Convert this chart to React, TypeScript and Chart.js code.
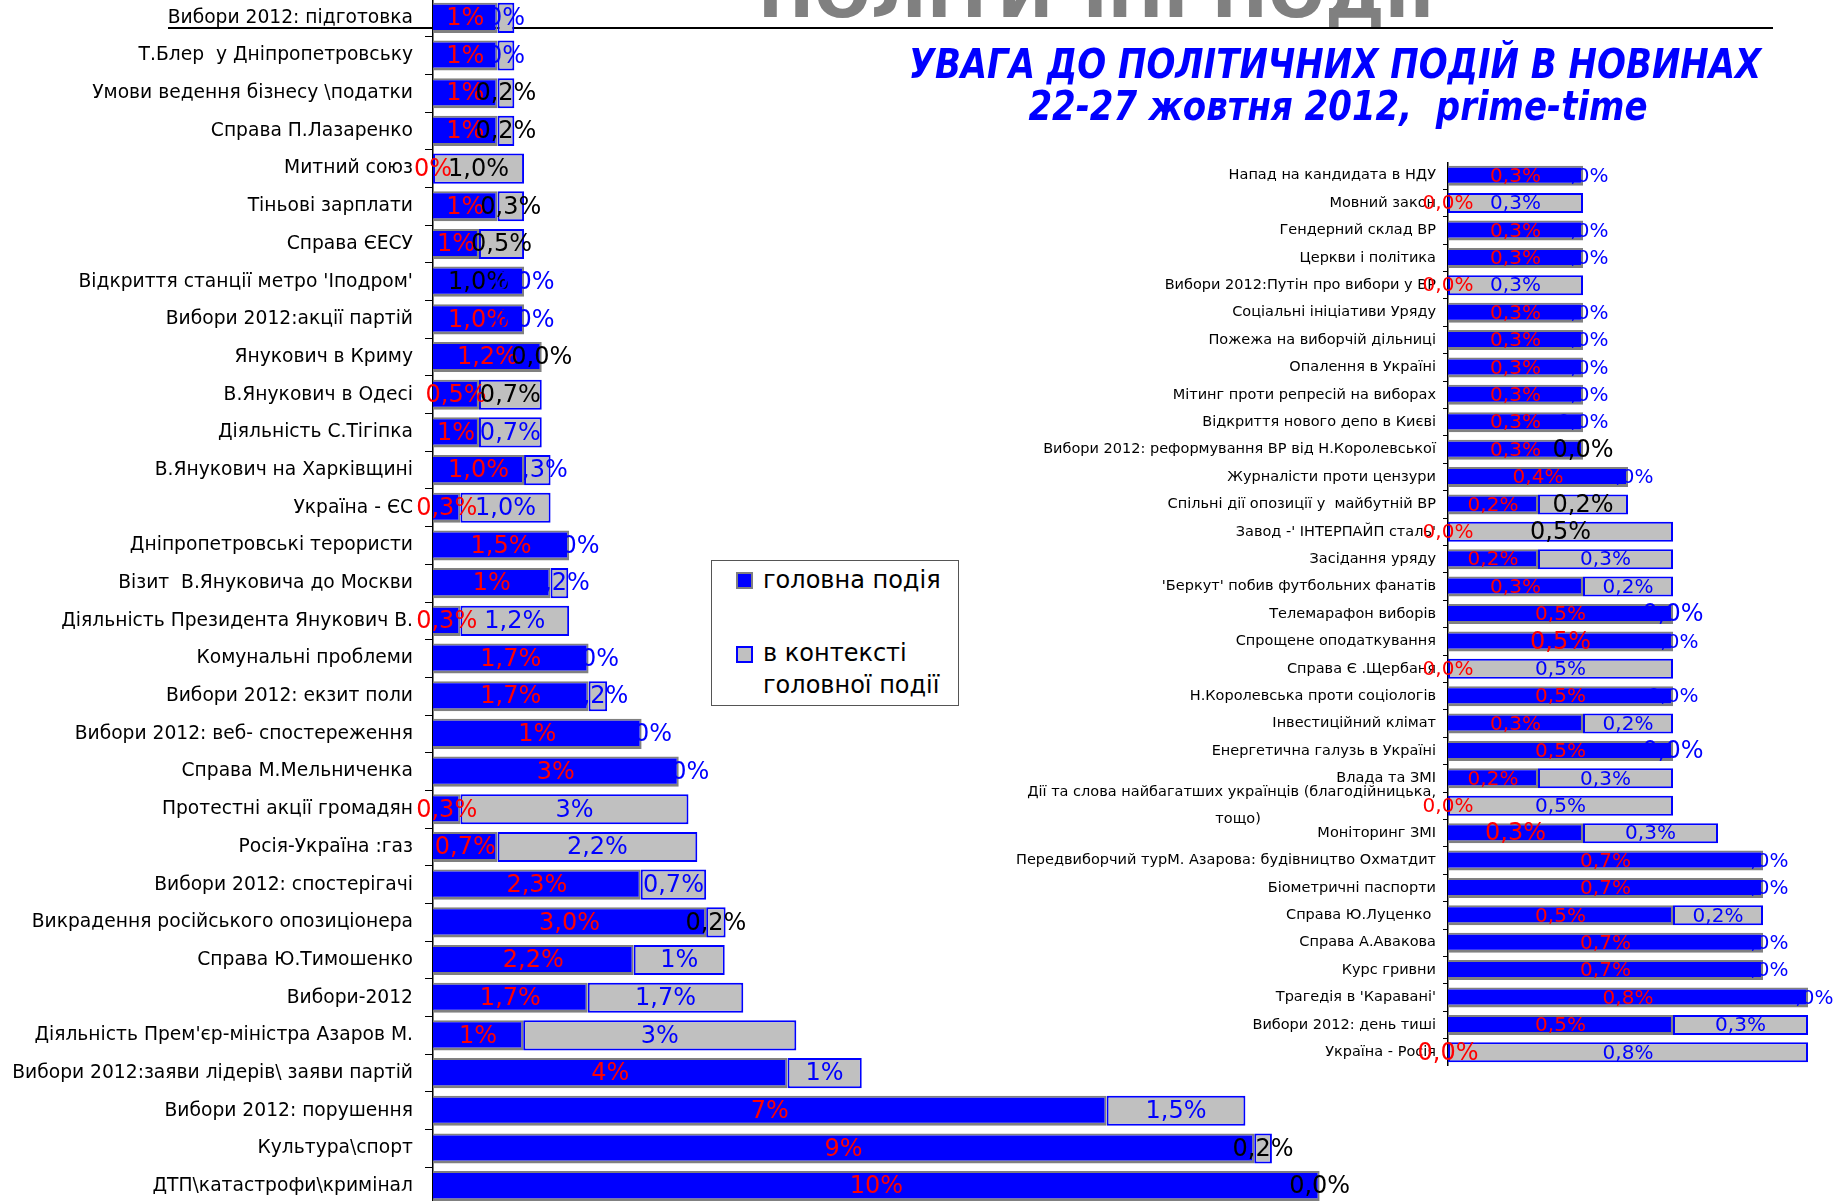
import React, { useEffect, useRef } from "react";
import { Chart, registerables } from "chart.js";

Chart.register(...registerables);

// ---------- DATA ----------
const SERIES_NAMES = ["головна подія", "в контексті головної події"];

const LEFT_CATEGORIES = [
  "Вибори 2012: підготовка",
  "Т.Блер  у Дніпропетровську",
  "Умови ведення бізнесу \\податки",
  "Справа П.Лазаренко",
  "Митний союз",
  "Тіньові зарплати",
  "Справа ЄЕСУ",
  "Відкриття станції метро 'Іподром'",
  "Вибори 2012:акції партій",
  "Янукович в Криму",
  "В.Янукович в Одесі",
  "Діяльність С.Тігіпка",
  "В.Янукович на Харківщині",
  "Україна - ЄС",
  "Дніпропетровські терористи",
  "Візит  В.Януковича до Москви",
  "Діяльність Президента Янукович В.",
  "Комунальні проблеми",
  "Вибори 2012: екзит поли",
  "Вибори 2012: веб- спостереження",
  "Справа М.Мельниченка",
  "Протестні акції громадян",
  "Росія-Україна :газ",
  "Вибори 2012: спостерігачі",
  "Викрадення російського опозиціонера",
  "Справа Ю.Тимошенко",
  "Вибори-2012",
  "Діяльність Прем'єр-міністра Азаров М.",
  "Вибори 2012:заяви лідерів\\ заяви партій",
  "Вибори 2012: порушення",
  "Культура\\спорт",
  "ДТП\\катастрофи\\кримінал",
];

const LEFT_MAIN = [
  0.73, 0.73, 0.73, 0.73, 0, 0.73, 0.52, 1.03, 1.03, 1.23, 0.52, 0.52, 1.03,
  0.31, 1.54, 1.33, 0.31, 1.76, 1.76, 2.36, 2.78, 0.31, 0.73, 2.35, 3.09, 2.27,
  1.75, 1.02, 4.01, 7.62, 9.29, 10.03,
];

const LEFT_CONTEXT = [
  0.19, 0.19, 0.19, 0.19, 1.03, 0.3, 0.51, 0, 0, 0, 0.71, 0.71, 0.3, 1.02, 0,
  0.2, 1.23, 0, 0.21, 0, 0, 2.58, 2.26, 0.74, 0.22, 1.03, 1.76, 3.09, 0.84,
  1.57, 0.2, 0,
];

const LEFT_MAIN_LABELS = [
  "1%", "1%", "1%", "1%", "0%", "1%", "1%", "1,0%", "1,0%", "1,2%", "0,5%",
  "1%", "1,0%", "0,3%", "1,5%", "1%", "0,3%", "1,7%", "1,7%", "1%", "3%",
  "0,3%", "0,7%", "2,3%", "3,0%", "2,2%", "1,7%", "1%", "4%", "7%", "9%", "10%",
];

const LEFT_CONTEXT_LABELS = [
  "0%", "0%", "0,2%", "0,2%", "1,0%", "0,3%", "0,5%", "0,0%", "0,0%", "0,0%",
  "0,7%", "0,7%", "0,3%", "1,0%", "0,0%", "0,2%", "1,2%", "0,0%", "0,2%",
  "0,0%", "0,0%", "3%", "2,2%", "0,7%", "0,2%", "1%", "1,7%", "3%", "1%",
  "1,5%", "0,2%", "0,0%",
];

// rows (1-based) whose value labels are printed in black
const LEFT_MAIN_BLACK_ROWS = [8];
const LEFT_CONTEXT_BLACK_ROWS = [3, 4, 5, 6, 7, 10, 11, 25, 31, 32];

const RIGHT_CATEGORIES: (string | string[])[] = [
  "Напад на кандидата в НДУ",
  "Мовний закон",
  "Гендерний склад ВР",
  "Церкви і політика",
  "Вибори 2012:Путін про вибори у ВР",
  "Соціальні ініціативи Уряду",
  "Пожежа на виборчій дільниці",
  "Опалення в Україні",
  "Мітинг проти репресій на виборах",
  "Відкриття нового депо в Києві",
  "Вибори 2012: реформування ВР від Н.Королевської",
  "Журналісти проти цензури",
  "Спільні дії опозиції у  майбутній ВР",
  "Завод -' ІНТЕРПАЙП сталь'",
  "Засідання уряду",
  "'Беркут' побив футбольних фанатів",
  "Телемарафон виборів",
  "Спрощене оподаткування",
  "Справа Є .Щербаня",
  "Н.Королевська проти соціологів",
  "Інвестиційний клімат",
  "Енергетична галузь в Україні",
  "Влада та ЗМІ",
  [
    "Дії та слова найбагатших українців (благодійницька,",
    "тощо)" + " ".repeat(38),
  ],
  "Моніторинг ЗМІ",
  "Передвиборчий турМ. Азарова: будівництво Охматдит",
  "Біометричні паспорти",
  "Справа Ю.Луценко ",
  "Справа А.Авакова",
  "Курс гривни",
  "Трагедія в 'Каравані'",
  "Вибори 2012: день тиші",
  "Україна - Росія",
];

const RIGHT_MAIN = [
  0.3, 0, 0.3, 0.3, 0, 0.3, 0.3, 0.3, 0.3, 0.3, 0.3, 0.4, 0.2, 0, 0.2, 0.3,
  0.5, 0.5, 0, 0.5, 0.3, 0.5, 0.2, 0, 0.3, 0.7, 0.7, 0.5, 0.7, 0.7, 0.8, 0.5, 0,
];

const RIGHT_CONTEXT = [
  0, 0.3, 0, 0, 0.3, 0, 0, 0, 0, 0, 0, 0, 0.2, 0.5, 0.3, 0.2, 0, 0, 0.5, 0,
  0.2, 0, 0.3, 0.5, 0.3, 0, 0, 0.2, 0, 0, 0, 0.3, 0.8,
];

const RIGHT_CONTEXT_BLACK_ROWS = [11, 13, 14];
const RIGHT_MAIN_BIG_ROWS = [18, 25, 33];
const RIGHT_CONTEXT_BIG_ROWS = [11, 13, 14, 17, 22];

// ---------- STYLE ----------
const BLUE = "#0000FF";
const GRAY = "#C0C0C0";
const SHADOW = "#808080";
const RED = "#FF0000";
const FONT = "DejaVu Sans";

const fmt = (v: number) => v.toFixed(1).replace(".", ",") + "%";

function labelPlugin(
  labels: string[][],
  colors: string[][],
  sizes: number[][]
) {
  return {
    id: "segmentLabels",
    afterDatasetsDraw(chart: any) {
      const c = chart.ctx;
      c.save();
      c.textAlign = "center";
      c.textBaseline = "middle";
      chart.data.datasets.forEach((_ds: any, di: number) => {
        const meta = chart.getDatasetMeta(di);
        meta.data.forEach((el: any, i: number) => {
          const p = el.getProps(["x", "y", "base"], true);
          c.font = `${sizes[di][i]}px "${FONT}"`;
          c.fillStyle = colors[di][i];
          c.fillText(labels[di][i], (p.x + p.base) / 2, p.y + 1);
        });
      });
      c.restore();
    },
  };
}

type PanelProps = {
  categories: (string | string[])[];
  main: number[];
  context: number[];
  labels: string[][];
  colors: string[][];
  sizes: number[][];
  left: number;
  top: number;
  width: number;
  height: number;
  axisWidth: number;
  xMax: number;
  tickSize: number;
  tickLength: number;
  tickPadding: number;
  lineHeight: number;
  barPct: number;
};

function BarPanel(props: PanelProps) {
  const ref = useRef<HTMLCanvasElement>(null);
  useEffect(() => {
    if (!ref.current) return;
    const chart = new Chart(ref.current, {
      type: "bar",
      data: {
        labels: props.categories as any,
        datasets: [
          {
            label: SERIES_NAMES[0],
            data: props.main,
            backgroundColor: BLUE,
            borderColor: SHADOW,
            borderWidth: { top: 2, right: 2, bottom: 3, left: 0 },
            borderSkipped: false,
            barPercentage: props.barPct,
            categoryPercentage: 1,
          },
          {
            label: SERIES_NAMES[1],
            data: props.context,
            backgroundColor: GRAY,
            borderColor: BLUE,
            borderWidth: 2,
            borderSkipped: false,
            barPercentage: props.barPct,
            categoryPercentage: 1,
          },
        ],
      },
      options: {
        indexAxis: "y",
        responsive: false,
        animation: false,
        devicePixelRatio: 1,
        events: [],
        layout: { padding: 0, autoPadding: false },
        plugins: {
          legend: { display: false },
          tooltip: { enabled: false },
          title: { display: false },
        },
        scales: {
          x: { stacked: true, min: 0, max: props.xMax, display: false },
          y: {
            stacked: true,
            offset: true,
            grid: {
              display: true,
              offset: true,
              drawOnChartArea: false,
              drawTicks: true,
              tickLength: props.tickLength,
              color: "#000",
              lineWidth: 1,
            },
            border: { display: true, color: "#000", width: 1.5 },
            ticks: {
              autoSkip: false,
              padding: props.tickPadding,
              color: "#000",
              font: {
                family: FONT,
                size: props.tickSize,
                lineHeight: props.lineHeight,
              },
            },
            afterFit: (s: any) => {
              s.width = props.axisWidth;
              s.paddingTop = 0;
              s.paddingBottom = 0;
              s.paddingLeft = 0;
              s.paddingRight = 0;
            },
          },
        },
      } as any,
      plugins: [labelPlugin(props.labels, props.colors, props.sizes)],
    });
    return () => chart.destroy();
  }, []);
  return (
    <canvas
      ref={ref}
      width={props.width}
      height={props.height}
      style={{
        position: "absolute",
        left: props.left,
        top: props.top,
        width: props.width,
        height: props.height,
        zIndex: 1,
      }}
    />
  );
}

export default function App() {
  const leftLabels = [LEFT_MAIN_LABELS, LEFT_CONTEXT_LABELS];
  const leftColors = [
    LEFT_MAIN.map((_, i) => (LEFT_MAIN_BLACK_ROWS.includes(i + 1) ? "#000" : RED)),
    LEFT_CONTEXT.map((_, i) =>
      LEFT_CONTEXT_BLACK_ROWS.includes(i + 1) ? "#000" : BLUE
    ),
  ];
  const leftSizes = [LEFT_MAIN.map(() => 24), LEFT_CONTEXT.map(() => 24)];

  const rightLabels = [RIGHT_MAIN.map(fmt), RIGHT_CONTEXT.map(fmt)];
  const rightColors = [
    RIGHT_MAIN.map(() => RED),
    RIGHT_CONTEXT.map((_, i) =>
      RIGHT_CONTEXT_BLACK_ROWS.includes(i + 1) ? "#000" : BLUE
    ),
  ];
  const rightSizes = [
    RIGHT_MAIN.map((_, i) => (RIGHT_MAIN_BIG_ROWS.includes(i + 1) ? 24 : 20)),
    RIGHT_CONTEXT.map((_, i) =>
      RIGHT_CONTEXT_BIG_ROWS.includes(i + 1) ? 24 : 20
    ),
  ];

  const titleStyle: React.CSSProperties = {
    position: "absolute",
    fontSize: 34,
    lineHeight: 1,
    fontWeight: "bold",
    fontStyle: "italic",
    color: BLUE,
    whiteSpace: "pre",
    zIndex: 2,
    transform: "translateX(-50%) scaleY(1.2)",
    transformOrigin: "50% 50%",
  };

  return (
    <div
      style={{
        position: "absolute",
        left: 0,
        top: 0,
        width: 1840,
        height: 1201,
        overflow: "hidden",
        background: "#fff",
        fontFamily: FONT,
      }}
    >
      {/* faded heading clipped by the top edge */}
      <div
        style={{
          position: "absolute",
          left: 758,
          top: -39,
          fontSize: 67,
          lineHeight: 1,
          fontWeight: "bold",
          color: "#808080",
          whiteSpace: "nowrap",
          zIndex: 0,
        }}
      >
        ПОЛІТИЧНІ ПОДІЇ
      </div>
      {/* horizontal rule */}
      <div
        style={{
          position: "absolute",
          left: 168,
          top: 27,
          width: 1605,
          height: 2,
          background: "#000",
          zIndex: 0,
        }}
      />

      <BarPanel
        categories={LEFT_CATEGORIES}
        main={LEFT_MAIN}
        context={LEFT_CONTEXT}
        labels={leftLabels}
        colors={leftColors}
        sizes={leftSizes}
        left={0}
        top={-1}
        width={1840}
        height={1206}
        axisWidth={433}
        xMax={1407 / 88.4}
        tickSize={18.7}
        tickLength={8}
        tickPadding={12}
        lineHeight={1.2}
        barPct={0.8}
      />
      <BarPanel
        categories={RIGHT_CATEGORIES}
        main={RIGHT_MAIN}
        context={RIGHT_CONTEXT}
        labels={rightLabels}
        colors={rightColors}
        sizes={rightSizes}
        left={960}
        top={162}
        width={880}
        height={904}
        axisWidth={488}
        xMax={392 / 450}
        tickSize={14.5}
        tickLength={5}
        tickPadding={7}
        lineHeight={1.86}
        barPct={0.73}
      />

      {/* title */}
      <div style={{ ...titleStyle, left: 1335, top: 47 }}>
        УВАГА ДО ПОЛІТИЧНИХ ПОДІЙ В НОВИНАХ
      </div>
      <div style={{ ...titleStyle, left: 1338, top: 89 }}>
        {"22-27 жовтня 2012,  prime-time"}
      </div>

      {/* legend */}
      <div
        style={{
          position: "absolute",
          left: 711,
          top: 560,
          width: 248,
          height: 146,
          border: "1px solid #555",
          boxSizing: "border-box",
          background: "#fff",
          zIndex: 3,
          color: "#000",
          fontSize: 24,
        }}
      >
        <div
          style={{
            position: "absolute",
            left: 24,
            top: 11,
            width: 17,
            height: 17,
            boxSizing: "border-box",
            background: BLUE,
            border: `2px solid ${SHADOW}`,
          }}
        />
        <div
          style={{
            position: "absolute",
            left: 51,
            top: 7,
            lineHeight: 1,
            whiteSpace: "nowrap",
          }}
        >
          {SERIES_NAMES[0]}
        </div>
        <div
          style={{
            position: "absolute",
            left: 24,
            top: 85,
            width: 17,
            height: 17,
            boxSizing: "border-box",
            background: GRAY,
            border: `2px solid ${BLUE}`,
          }}
        />
        <div
          style={{
            position: "absolute",
            left: 51,
            top: 76,
            lineHeight: "32px",
            whiteSpace: "nowrap",
          }}
        >
          в контексті
          <br />
          головної події
        </div>
      </div>
    </div>
  );
}
